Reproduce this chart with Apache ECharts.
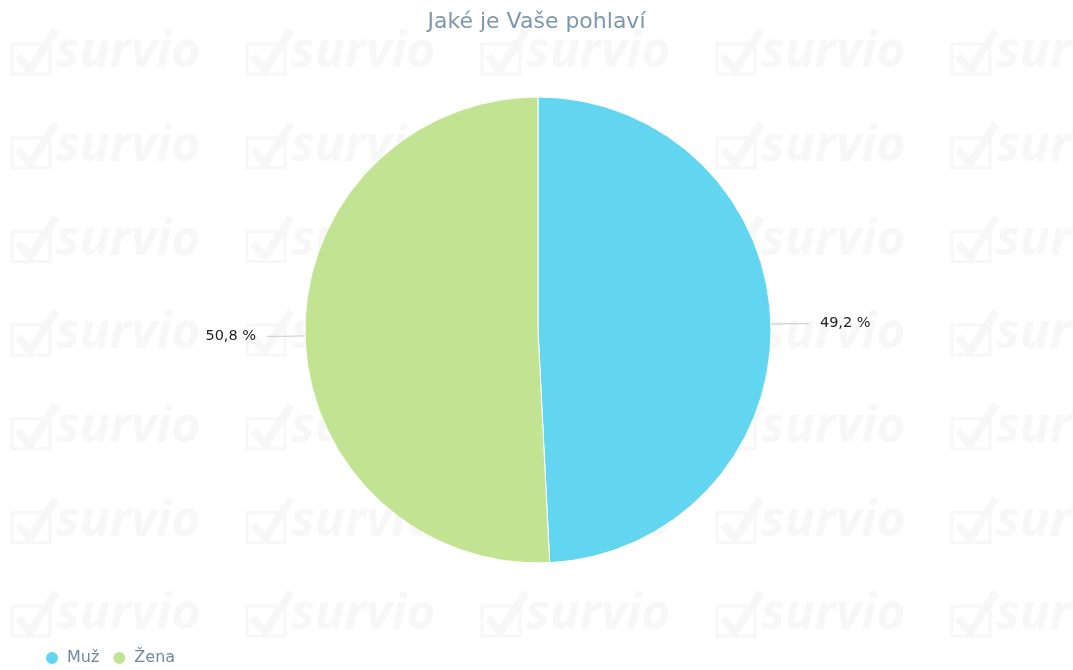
<!DOCTYPE html>
<html>
<head>
<meta charset="utf-8">
<script src="https://cdn.jsdelivr.net/npm/echarts@6/dist/echarts.min.js"></script>
<style>
html,body{margin:0;padding:0;background:#fff;}
#chart{width:1073px;height:670px;}
</style>
</head>
<body>
<div id="chart"></div>
<script>
var titleText = 'Jaké je Vaše pohlaví';
var categories = ['Muž', 'Žena'];
var values = [49.2, 50.8];
var colors = ['#62d5f1', '#c2e492'];

var chart = echarts.init(document.getElementById('chart'), null, {renderer: 'canvas'});

// faint "survio" watermark tiles
var wmColor = '#f7f7f7';
var wm = [];
for (var r = 0; r < 7; r++) {
  for (var c = 0; c < 5; c++) {
    var x0 = 10 + c * 235, y0 = 34 + r * 93.7;
    wm.push({
      type: 'group', x: x0, y: y0, silent: true, z: -10,
      children: [
        {type: 'rect', shape: {x: 2, y: 10, width: 38, height: 30}, style: {fill: 'none', stroke: wmColor, lineWidth: 3}},
        {type: 'polyline', shape: {points: [[8, 22], [20, 36], [46, -4]]}, style: {stroke: wmColor, lineWidth: 8, fill: 'none'}},
        {type: 'text', x: 46, y: -6, style: {text: 'survio', font: 'italic bold 50px "Open Sans", "DejaVu Sans", sans-serif', fill: wmColor}}
      ]
    });
  }
}

chart.setOption({
  backgroundColor: '#ffffff',
  animation: false,
  title: {
    text: titleText,
    left: 'center',
    top: 6,
    textStyle: {fontFamily: 'DejaVu Sans', fontSize: 22, fontWeight: 'normal', color: '#7d98ad'}
  },
  legend: {
    left: 39,
    bottom: -1,
    icon: 'circle',
    itemWidth: 14,
    itemHeight: 14,
    itemGap: 12,
    data: categories,
    textStyle: {fontFamily: 'DejaVu Sans', fontSize: 16, color: '#6f8aa0', padding: [0, 0, 0, 3]}
  },
  graphic: wm,
  series: [{
    type: 'pie',
    center: [538, 330],
    radius: [0, 233],
    startAngle: 90,
    clockwise: true,
    itemStyle: {borderColor: '#ffffff', borderWidth: 1},
    label: {
      show: true,
      fontFamily: 'DejaVu Sans',
      fontSize: 14.5,
      color: '#222',
      distanceToLabelLine: 11,
      formatter: function (p) { return p.value.toFixed(1).replace('.', ',') + ' %'; }
    },
    labelLine: {show: true, length: 18, length2: 20, lineStyle: {color: '#c8c8c8', width: 1}},
    emphasis: {disabled: true},
    data: categories.map(function (n, i) { return {name: n, value: values[i], itemStyle: {color: colors[i]}}; })
  }]
});
</script>
</body>
</html>
